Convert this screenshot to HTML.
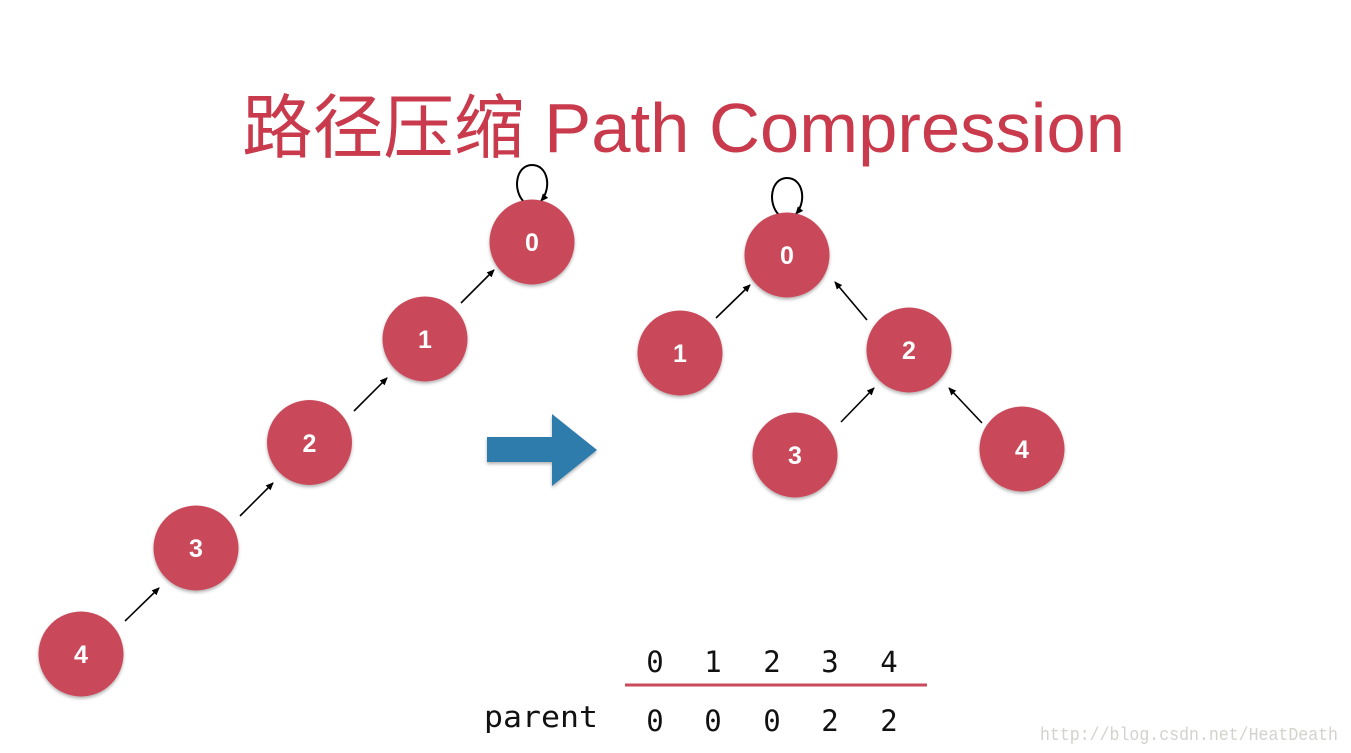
<!DOCTYPE html>
<html><head><meta charset="utf-8"><style>
html,body{margin:0;padding:0;background:#fff;}
svg{display:block;}
</style></head><body>
<svg width="1351" height="753" viewBox="0 0 1351 753" xmlns="http://www.w3.org/2000/svg">
<defs>
<marker id="ah" markerWidth="8" markerHeight="8" refX="7" refY="4" orient="auto" markerUnits="userSpaceOnUse">
<path d="M0,0.5 L8,4 L0,7.5 Z" fill="#000"/>
</marker>
<filter id="sh" x="-20%" y="-20%" width="140%" height="140%">
<feDropShadow dx="0" dy="2" stdDeviation="1.5" flood-color="#000" flood-opacity="0.3"/>
</filter>
</defs>
<text x="242" y="152" font-family="'Liberation Sans','Noto Sans CJK SC',sans-serif" font-size="70" fill="#c93a4c" textLength="883" lengthAdjust="spacingAndGlyphs">路径压缩 Path Compression</text>

<g stroke="#000" stroke-width="1.6" fill="none">
<line x1="125" y1="621" x2="159" y2="588" marker-end="url(#ah)"/>
<line x1="240" y1="516" x2="273" y2="483" marker-end="url(#ah)"/>
<line x1="354" y1="411" x2="387" y2="378" marker-end="url(#ah)"/>
<line x1="461" y1="303" x2="494" y2="270" marker-end="url(#ah)"/>
<line x1="716" y1="318" x2="750" y2="285" marker-end="url(#ah)"/>
<line x1="867" y1="320" x2="835" y2="282" marker-end="url(#ah)"/>
<line x1="841" y1="422" x2="874" y2="388" marker-end="url(#ah)"/>
<line x1="982" y1="423" x2="949" y2="388" marker-end="url(#ah)"/>
<path d="M524,202 C512,190 516,165 532,165 C548,165 552,188 541,201" stroke-width="2" marker-end="url(#ah)"/>
<path d="M779,215 C767,203 771,178 787,178 C803,178 807,201 796,214" stroke-width="2" marker-end="url(#ah)"/>
</g>

<g fill="#c94a5a" filter="url(#sh)">
<circle cx="532" cy="242" r="42.5"/>
<circle cx="425" cy="339" r="42.5"/>
<circle cx="309.5" cy="442.5" r="42.5"/>
<circle cx="196" cy="548" r="42.5"/>
<circle cx="81" cy="654" r="42.5"/>
<circle cx="787" cy="255" r="42.5"/>
<circle cx="680" cy="353" r="42.5"/>
<circle cx="909" cy="350" r="42.5"/>
<circle cx="795" cy="455" r="42.5"/>
<circle cx="1022" cy="449" r="42.5"/>
</g>
<g fill="#fff" font-family="'Liberation Sans',sans-serif" font-weight="bold" font-size="25" text-anchor="middle">
<text x="532" y="251">0</text>
<text x="425" y="348">1</text>
<text x="309.5" y="452">2</text>
<text x="196" y="557">3</text>
<text x="81" y="663">4</text>
<text x="787" y="264">0</text>
<text x="680" y="362">1</text>
<text x="909" y="359">2</text>
<text x="795" y="464">3</text>
<text x="1022" y="458">4</text>
</g>

<path d="M487,437 L552,437 L552,414 L597,450 L552,486 L552,462 L487,462 Z" fill="#2f7bab" filter="url(#sh)"/>

<g font-family="'DejaVu Sans Mono','Liberation Mono',monospace" font-size="29" fill="#111" text-anchor="middle">
<text x="655" y="672">0</text>
<text x="713" y="672">1</text>
<text x="772" y="672">2</text>
<text x="830" y="672">3</text>
<text x="889" y="672">4</text>
<text x="655" y="731">0</text>
<text x="713" y="731">0</text>
<text x="772" y="731">0</text>
<text x="830" y="731">2</text>
<text x="889" y="731">2</text>
<text x="541" y="727" textLength="114" lengthAdjust="spacingAndGlyphs">parent</text>
</g>
<line x1="625" y1="685" x2="927" y2="685" stroke="#c94a5a" stroke-width="3"/>

<text x="1040" y="740" font-family="'Liberation Mono','DejaVu Sans Mono',monospace" font-size="18" fill="#d4d2cc" textLength="298" lengthAdjust="spacingAndGlyphs">http://blog.csdn.net/HeatDeath</text>
</svg>
</body></html>
